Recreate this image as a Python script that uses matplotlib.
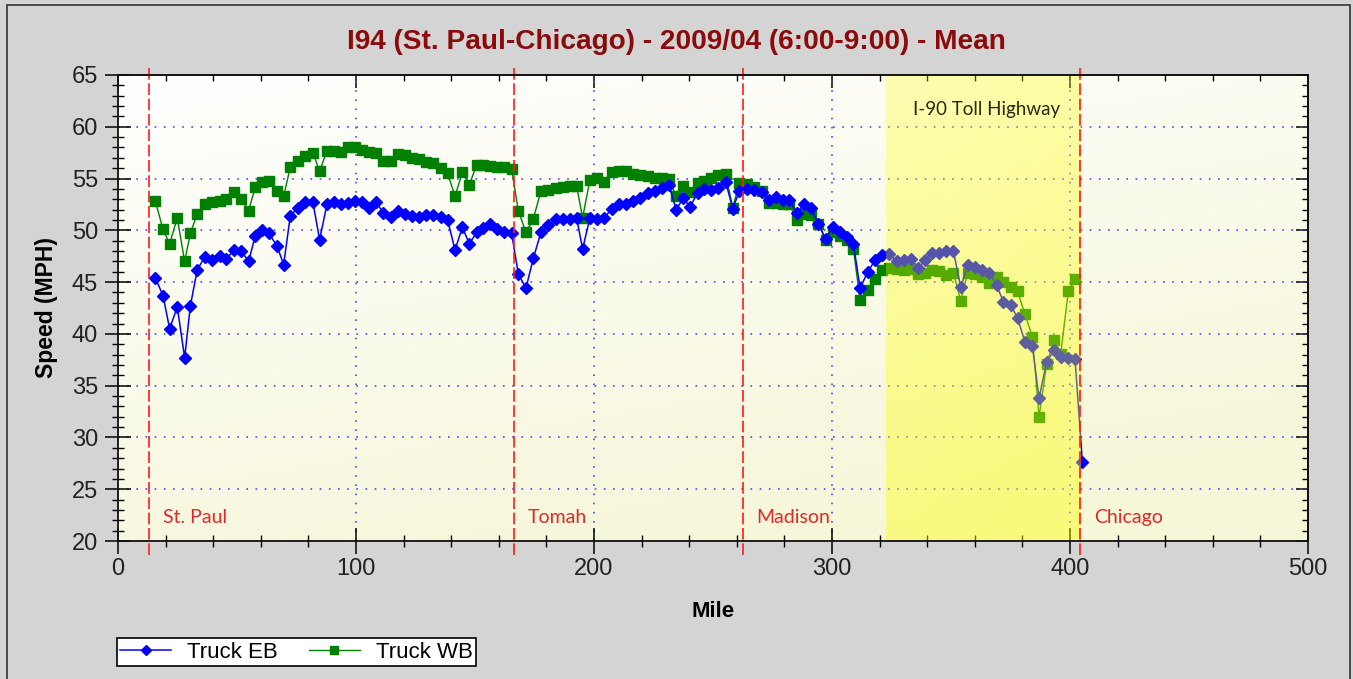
import numpy as np
import matplotlib
matplotlib.use("Agg")
import matplotlib.pyplot as plt
from matplotlib.patches import Rectangle
from matplotlib.lines import Line2D
from matplotlib.ticker import MultipleLocator

# mile posts (shared by both directions)
mile = [15.7, 18.9, 21.7, 24.9, 28.0, 30.4, 33.3, 36.4, 39.6, 42.7, 45.5, 48.6, 51.8, 54.9,
        57.7, 60.5, 63.4, 66.8, 69.6, 72.4, 75.6, 78.7, 81.9, 84.7, 87.8, 90.8, 93.6, 96.6,
        99.4, 102.5, 105.5, 108.4, 111.5, 114.7, 117.8, 120.6, 123.4, 126.5, 129.4, 132.5,
        135.6, 138.5, 141.6, 144.7, 147.6, 150.7, 153.5, 156.3, 159.4, 162.3, 165.4, 168.2,
        171.4, 174.5, 177.7, 180.8, 183.9, 186.8, 189.9, 192.7, 195.2, 198.3, 201.4, 204.4,
        207.4, 210.6, 213.4, 216.5, 219.3, 222.6, 225.6, 228.4, 231.5, 234.5, 237.5, 240.3,
        243.6, 246.4, 249.2, 252.2, 255.3, 258.3, 261.1, 264.1, 267.4, 270.4, 273.7, 276.5,
        279.3, 282.1, 285.2, 288.2, 291.0, 294.3, 297.3, 300.3, 303.4, 306.4, 309.0, 311.8,
        315.0, 318.1, 320.9, 324.1, 327.2, 330.3, 333.2, 336.3, 339.1, 341.9, 345.0, 347.9,
        351.0, 354.1, 357.0, 360.1, 363.2, 366.1, 369.2, 372.0, 375.1, 378.0, 381.1, 384.2,
        387.0, 390.2, 393.3, 396.1, 399.3, 402.1, 405.2]

speed_eb = [45.4, 43.7, 40.5, 42.6, 37.7, 42.7, 46.2, 47.4, 47.1, 47.5, 47.2, 48.1, 48.0, 47.0,
            49.5, 50.0, 49.7, 48.5, 46.7, 51.4, 52.2, 52.7, 52.7, 49.1, 52.5, 52.7, 52.5, 52.6,
            52.8, 52.7, 52.2, 52.7, 51.7, 51.3, 51.9, 51.6, 51.4, 51.3, 51.5, 51.5,
            51.3, 51.0, 48.1, 50.3, 48.7, 49.8, 50.2, 50.6, 50.1, 49.8, 49.7, 45.8,
            44.4, 47.3, 49.8, 50.5, 51.1, 51.1, 51.1, 51.2, 48.2, 51.2, 51.1, 51.2,
            52.1, 52.5, 52.5, 52.8, 53.1, 53.6, 53.8, 54.1, 54.4, 52.0, 53.1, 52.3,
            53.6, 54.0, 53.9, 54.1, 54.7, 52.1, 53.8, 54.0, 53.9, 53.7, 52.9, 53.2,
            52.9, 52.9, 51.7, 52.5, 52.2, 50.6, 49.2, 50.3, 49.8, 49.4, 48.7, 44.4,
            46.0, 47.1, 47.6, 47.7, 47.0, 47.1, 47.2, 46.4, 47.1, 47.8, 47.8, 48.0,
            48.0, 44.5, 46.7, 46.5, 46.2, 45.9, 44.7, 43.1, 42.8, 41.5, 39.2, 38.8,
            33.8, 37.3, 38.4, 37.8, 37.7, 37.6, 27.6]

speed_wb = [52.8, 50.1, 48.7, 51.2, 47.0, 49.7, 51.6, 52.5, 52.7, 52.8, 53.0, 53.7, 53.0, 51.9,
            54.2, 54.7, 54.8, 53.8, 53.3, 56.1, 56.7, 57.2, 57.5, 55.7, 57.7, 57.7, 57.6, 58.0,
            58.0, 57.8, 57.6, 57.5, 56.7, 56.7, 57.4, 57.3, 57.0, 56.9, 56.6, 56.5,
            56.0, 55.5, 53.3, 55.6, 54.4, 56.3, 56.3, 56.2, 56.1, 56.1, 55.9, 51.9,
            49.8, 51.1, 53.8, 53.9, 54.1, 54.2, 54.3, 54.3, 51.2, 54.9, 55.1, 54.7,
            55.6, 55.7, 55.7, 55.4, 55.3, 55.2, 55.1, 55.1, 55.0, 53.3, 54.3, 53.7,
            54.6, 54.8, 55.1, 55.3, 55.4, 52.2, 54.6, 54.5, 54.2, 53.8, 52.6, 52.6,
            52.5, 52.5, 51.0, 51.6, 51.5, 50.6, 49.1, 49.8, 49.5, 49.1, 48.2, 43.3,
            44.2, 45.3, 46.2, 46.4, 46.3, 46.2, 46.3, 45.8, 45.9, 46.2, 46.1, 45.7,
            45.9, 43.2, 45.9, 45.8, 45.5, 44.9, 45.5, 45.0, 44.5, 44.1, 41.9, 39.7,
            32.0, 37.1, 39.4, 38.1, 44.1, 45.3, np.nan]

cities = ["St. Paul", "Tomah", "Madison", "Chicago"]
city_mile = [13.0, 166.5, 262.5, 404.3]
toll_start, toll_end = 322.7, 404.3

fig = plt.figure(figsize=(13.53, 6.79), dpi=100, facecolor="#d4d4d4")
ax = fig.add_axes([118 / 1353, 1 - 541 / 679, 1190 / 1353, 466 / 679])
ax.set_facecolor("#fffff4")

# plot background gradient (white at top left, cream towards bottom)
gx, gy = np.meshgrid(np.linspace(0, 1, 200), np.linspace(0, 1, 100))
g = np.clip(0.35 * gx + 0.8 * gy, 0, 1)
bg = np.zeros((100, 200, 3))
bg[..., 0] = 1.0 - 0.035 * g
bg[..., 1] = 1.0 - 0.035 * g
bg[..., 2] = 1.0 - 0.15 * g
ax.imshow(bg, extent=[0, 500, 20, 65], origin="upper", aspect="auto", zorder=0,
          interpolation="bilinear")

ax.plot(mile, speed_wb, color="#008000", lw=1.0, marker="s", ms=7, mec="#008000",
        label="Truck WB", zorder=3)
ax.plot(mile, speed_eb, color="#0000ff", lw=1.1, marker="D", ms=6.5, mec="#0000ff",
        label="Truck EB", zorder=3.5)

# toll highway band, drawn over the lines with transparency
bx, by = np.meshgrid(np.linspace(0, 1, 60), np.linspace(0, 1, 100))
band = np.zeros((100, 60, 4))
band[..., 0] = 1.0
band[..., 1] = 1.0
band[..., 2] = 0.0
band[..., 3] = 0.28 + 0.16 * np.clip(0.75 * by + 0.25 * bx, 0, 1)
ax.imshow(band, extent=[toll_start, toll_end, 20, 65], origin="upper", aspect="auto",
          zorder=4, interpolation="bilinear")
ax.text(toll_end - 8.5, 61.7, "I-90 Toll Highway", ha="right", va="center",
        fontsize=13.5, family="Lato", color="#2a2a10", zorder=5)

for name, m in zip(cities, city_mile):
    ax.axvline(m, ymin=-0.03, ymax=1.02, color="#ff1a1a", lw=1.2, dashes=(7, 2.2),
               clip_on=False, zorder=6)
    ax.annotate(name, (m, 22.3), xytext=(10, 0), textcoords="offset points",
                ha="left", va="center", fontsize=14, family="Lato", color="#dd2a2a", zorder=6)

ax.set_xlim(0, 500)
ax.set_ylim(20, 65)
ax.xaxis.set_major_locator(MultipleLocator(100))
ax.xaxis.set_minor_locator(MultipleLocator(20))
ax.yaxis.set_major_locator(MultipleLocator(5))
ax.yaxis.set_minor_locator(MultipleLocator(1))
ax.set_axisbelow(True)
ax.grid(True, which="major", color="#4a4aff", lw=1.2, linestyle=(0, (1, 4.5)))

ax.tick_params(which="major", direction="inout", length=19, width=1.1, color="black",
               labelsize=17, pad=5, labelcolor="#222222")
ax.tick_params(which="minor", direction="inout", length=9, width=1.0, color="black")
ax.tick_params(axis="x", which="major", pad=3)
for lab in ax.get_xticklabels() + ax.get_yticklabels():
    lab.set_family("Liberation Sans")
for s in ax.spines.values():
    s.set_linewidth(1.3)
    s.set_color("#111111")
    s.set_zorder(7)

top = ax.secondary_xaxis("top")
top.xaxis.set_major_locator(MultipleLocator(100))
top.xaxis.set_minor_locator(MultipleLocator(20))
top.tick_params(which="major", direction="in", length=9, width=1.1, labeltop=False)
top.tick_params(which="minor", direction="in", length=4.5, width=1.0)
top.spines["top"].set_linewidth(1.3)
top.spines["top"].set_color("#444444")
right = ax.secondary_yaxis("right")
right.yaxis.set_major_locator(MultipleLocator(5))
right.yaxis.set_minor_locator(MultipleLocator(1))
right.tick_params(which="major", direction="in", length=9, width=1.1, labelright=False)
right.tick_params(which="minor", direction="in", length=4.5, width=1.0)
right.spines["right"].set_linewidth(1.3)
right.spines["right"].set_color("#111111")

ax.set_xlabel("Mile", fontsize=16, fontweight="bold", family="Liberation Sans", labelpad=15)
ax.set_ylabel("Speed (MPH)", fontsize=16.5, fontweight="bold", family="Liberation Sans",
              labelpad=10)

fig.text(0.5, 1 - 42 / 679, "I94 (St. Paul-Chicago) - 2009/04 (6:00-9:00) - Mean",
         ha="center", va="center", fontsize=20.2, fontweight="bold", color="#8b0a0a",
         family="Liberation Sans")

handles = [Line2D([], [], color="#0000ff", lw=1.1, marker="D", ms=5),
           Line2D([], [], color="#008000", lw=1.0, marker="s", ms=5.5)]
leg = fig.legend(handles, ["Truck EB", "Truck WB"], loc="lower left",
                 bbox_to_anchor=(117 / 1353, 13 / 679), ncol=2, frameon=True, fancybox=False,
                 framealpha=1, edgecolor="black", borderpad=0.15, handlelength=2.3,
                 handletextpad=0.7, columnspacing=1.4, borderaxespad=0,
                 prop={"family": "Liberation Sans", "size": 16})
leg.get_frame().set_linewidth(1.2)

fig.add_artist(Rectangle((7 / 1353, -0.05), 1343 / 1353, 1.05 - 5 / 679,
                         transform=fig.transFigure, fill=False, edgecolor="#333333", lw=1.2))

fig.savefig("out.png", dpi=100, facecolor=fig.get_facecolor())
